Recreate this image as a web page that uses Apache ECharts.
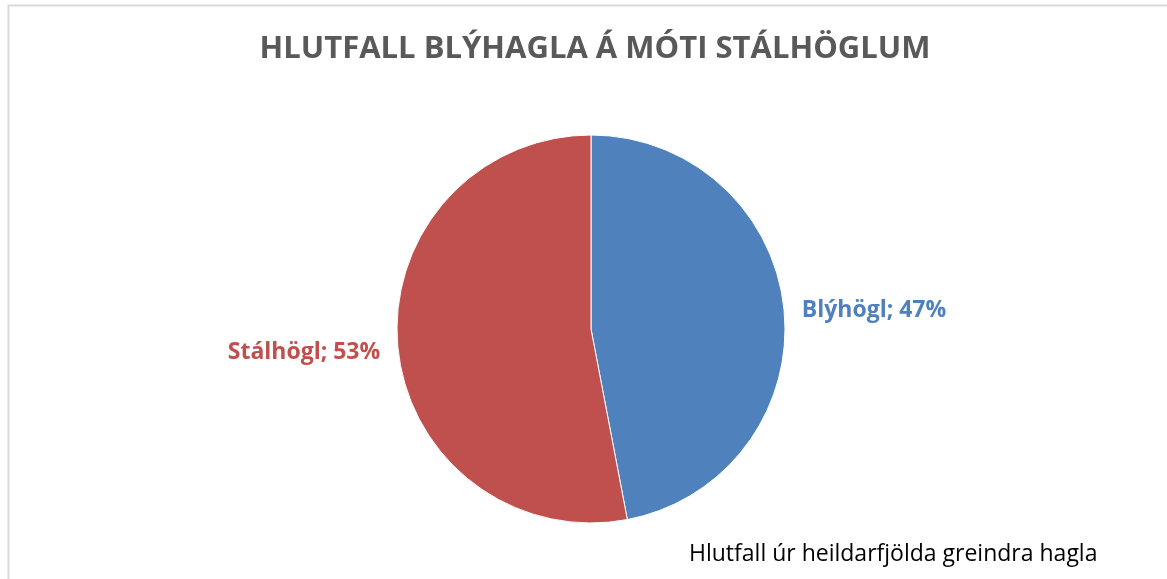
<!DOCTYPE html>
<html>
<head>
<meta charset="utf-8">
<script src="https://cdn.jsdelivr.net/npm/echarts@6/dist/echarts.min.js"></script>
<style>
  html, body { margin: 0; padding: 0; background: #fff; }
  #chart { width: 1167px; height: 579px; }
</style>
</head>
<body>
<div id="chart"></div>
<script>
// gögn
var categories = ['Blýhögl', 'Stálhögl'];
var values = [47, 53];
var colors = ['#4f81bd', '#c0504d'];

var myChart = echarts.init(document.getElementById('chart'));

var pieData = categories.map(function(name, i) {
    return {
        name: name,
        value: values[i],
        itemStyle: { color: colors[i] },
        label: { color: colors[i] }
    };
});

var options = {
    backgroundColor: '#fff',
    animation: false,
    title: [{
        text: 'HLUTFALL BLÝHAGLA Á MÓTI STÁLHÖGLUM',
        left: 590,
        top: 29,
        textAlign: 'center',
        textStyle: {
            fontFamily: 'Open Sans',
            fontWeight: 'bold',
            fontSize: 31,
            color: '#595959'
        }
    }, {
        text: 'Hlutfall úr heildarfjölda greindra hagla',
        left: 684,
        top: 538,
        textStyle: {
            fontFamily: 'Open Sans',
            fontWeight: 'normal',
            fontSize: 23,
            color: '#000'
        }
    }],
    graphic: [{
        type: 'rect',
        shape: { x: 8.5, y: 5.5, width: 1200, height: 600 },
        style: { fill: 'none', stroke: '#d9d9d9', lineWidth: 2 },
        silent: true
    }],
    series: [{
        type: 'pie',
        center: [591, 329],
        radius: 194,
        startAngle: 90,
        clockwise: true,
        itemStyle: { borderColor: '#fff', borderWidth: 1 },
        label: {
            show: true,
            position: 'outside',
            formatter: '{b}; {d}%',
            fontFamily: 'Open Sans',
            fontWeight: 'bold',
            fontSize: 23
        },
        labelLine: { show: false },
        labelLayout: function(params) {
            if (params.dataIndex === 0) {
                return { x: 874, y: 310, align: 'center', verticalAlign: 'middle' };
            }
            return { x: 304, y: 352, align: 'center', verticalAlign: 'middle' };
        },
        emphasis: { disabled: true },
        data: pieData
    }]
};
myChart.setOption(options);
</script>
</body>
</html>
